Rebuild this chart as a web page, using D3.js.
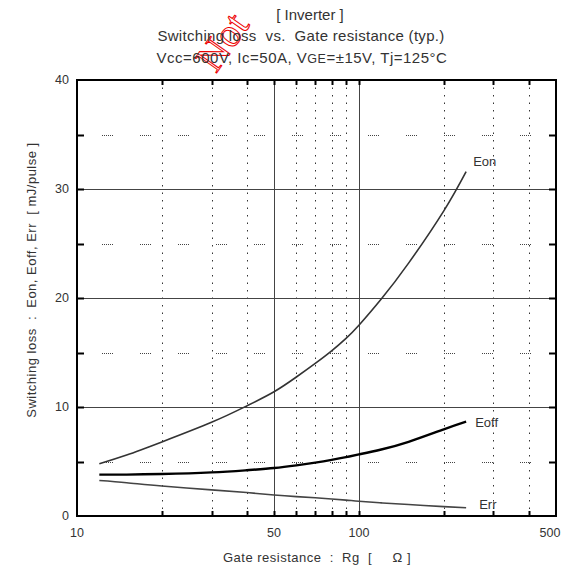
<!DOCTYPE html>
<html><head><meta charset="utf-8">
<script src="https://cdn.jsdelivr.net/npm/d3@7"></script>
<style>
body{margin:0;background:#fff;}
svg{display:block;font-family:"Liberation Sans",Arial,sans-serif;}
text{white-space:pre;}
</style></head>
<body><svg id="c" width="561" height="567"></svg>
<script>
// ---- data ----
const rg   = [12, 15, 20, 30, 40, 50, 60, 70, 80, 90, 100, 120, 150, 200, 240];
const eon  = [4.8, 5.6, 6.8, 8.6, 10.1, 11.4, 12.75, 14.0, 15.15, 16.3, 17.5, 19.9, 23.2, 28.0, 31.6];
const eoff = [3.8, 3.8, 3.85, 4.0, 4.2, 4.4, 4.65, 4.9, 5.15, 5.4, 5.65, 6.1, 6.8, 7.95, 8.65];
const err  = [3.25, 3.05, 2.75, 2.4, 2.15, 1.93, 1.78, 1.67, 1.56, 1.46, 1.35, 1.2, 1.05, 0.86, 0.76];
const xTickLabels = [10, 50, 100, 500];
const xMajorGrid = [50, 100];
const xMinorGrid = [20, 30, 40, 60, 70, 80, 90, 200, 300, 400];
const yTickLabels = [0, 10, 20, 30, 40];
const yMajorGrid = [10, 20, 30];
const yMinorGrid = [5, 15, 25, 35];
const titles = ["[ Inverter ]", "Switching loss  vs.  Gate resistance (typ.)"];

const svg = d3.select("#c");
const L = 77, R = 556, T = 80, B = 516;
const x = d3.scaleLog().domain([10, 500]).range([L, R]);
const y = d3.scaleLinear().domain([0, 40]).range([B, T]);

// ---- stamp ----
svg.append("text").attr("transform", "translate(216,74) rotate(-55)")
  .attr("font-family", "Liberation Serif, serif").attr("font-size", 40)
  .attr("fill", "none").attr("stroke", "#e00").attr("stroke-width", 1).text("Not");

// ---- grid ----
const g = svg.append("g");
g.selectAll(".vmin").data(xMinorGrid).join("line")
  .attr("x1", d => Math.round(x(d)) + 0.5).attr("x2", d => Math.round(x(d)) + 0.5)
  .attr("y1", T).attr("y2", B).attr("stroke", "#333").attr("stroke-width", 1)
  .attr("stroke-dasharray", "1.5 6");
g.selectAll(".hmin").data(yMinorGrid).join("line")
  .attr("x1", L).attr("x2", R)
  .attr("y1", d => Math.round(y(d)) + 0.5).attr("y2", d => Math.round(y(d)) + 0.5)
  .attr("stroke", "#444").attr("stroke-width", 1)
  .attr("stroke-dasharray", "1 1 1 1 1 1 1 1 1 1 1 27").attr("stroke-dashoffset", 13);
g.selectAll(".vmaj").data(xMajorGrid).join("line")
  .attr("x1", d => Math.round(x(d)) + 0.5).attr("x2", d => Math.round(x(d)) + 0.5)
  .attr("y1", T).attr("y2", B).attr("stroke", "#444").attr("stroke-width", 1);
g.selectAll(".hmaj").data(yMajorGrid).join("line")
  .attr("x1", L).attr("x2", R)
  .attr("y1", d => Math.round(y(d)) + 0.5).attr("y2", d => Math.round(y(d)) + 0.5)
  .attr("stroke", "#444").attr("stroke-width", 1);

// ---- ticks (inward) ----
const tk = svg.append("g").attr("stroke", "#000").attr("stroke-width", 2);
[...xMinorGrid, ...xMajorGrid].forEach(d => {
  const xx = Math.round(x(d)) + 0.5;
  tk.append("line").attr("x1", xx).attr("x2", xx).attr("y1", B).attr("y2", B - 5);
  tk.append("line").attr("x1", xx).attr("x2", xx).attr("y1", T).attr("y2", T + 5);
});
[...yMinorGrid, ...yMajorGrid].forEach(d => {
  const yy = Math.round(y(d)) + 0.5;
  tk.append("line").attr("x1", L).attr("x2", L + 7).attr("y1", yy).attr("y2", yy);
  tk.append("line").attr("x1", R).attr("x2", R - 7).attr("y1", yy).attr("y2", yy);
});

// ---- frame ----
svg.append("rect").attr("x", L).attr("y", T).attr("width", R - L).attr("height", B - T)
  .attr("fill", "none").attr("stroke", "#000").attr("stroke-width", 2);

// ---- curves ----
const pts = vals => rg.map((r, i) => [r, vals[i]]);
const line = d3.line().x(d => x(d[0])).y(d => y(d[1])).curve(d3.curveNatural);
svg.append("path").attr("d", line(pts(eon))).attr("fill", "none").attr("stroke", "#333").attr("stroke-width", 1.6);
svg.append("path").attr("d", line(pts(eoff))).attr("fill", "none").attr("stroke", "#000").attr("stroke-width", 2.4);
svg.append("path").attr("d", line(pts(err))).attr("fill", "none").attr("stroke", "#444").attr("stroke-width", 1.6);

// series labels
const last = rg.length - 1;
const lab = svg.append("g").attr("font-size", 13).attr("fill", "#333");
lab.append("text").attr("x", x(rg[last]) + 7).attr("y", y(eon[last]) - 6).text("Eon");
lab.append("text").attr("x", x(rg[last]) + 9).attr("y", y(eoff[last]) + 5).text("Eoff");
lab.append("text").attr("x", x(rg[last]) + 13).attr("y", y(err[last]) + 1).text("Err");

// ---- axis labels ----
const tl = svg.append("g").attr("font-size", 12.5).attr("fill", "#333");
tl.selectAll(".yl").data(yTickLabels).join("text")
  .attr("x", 69).attr("y", d => y(d) + 4).attr("text-anchor", "end").text(d => d);
tl.selectAll(".xl").data(xTickLabels).join("text")
  .attr("x", d => Math.min(x(d), 560 - 10))
  .attr("y", 537).attr("text-anchor", "middle").text(d => d);

svg.append("text").attr("transform", "translate(36,280) rotate(-90)").attr("text-anchor", "middle")
  .attr("font-size", 13).attr("letter-spacing", 0.5).attr("fill", "#333")
  .text("Switching loss  :  Eon, Eoff, Err  [ mJ/pulse ]");
svg.append("text").attr("x", 317).attr("y", 562).attr("text-anchor", "middle")
  .attr("font-size", 13).attr("letter-spacing", 0.5).attr("fill", "#333")
  .text("Gate resistance  :  Rg  [     \u03A9 ]");

// ---- titles ----
const tt = svg.append("g").attr("font-size", 15).attr("fill", "#333").attr("text-anchor", "middle");
tt.append("text").attr("x", 310).attr("y", 20).text(titles[0]);
tt.append("text").attr("x", 301).attr("y", 41).attr("letter-spacing", 0.3).text(titles[1]);
const t3 = tt.append("text").attr("x", 302).attr("y", 63).attr("letter-spacing", 0.5);
t3.append("tspan").text("Vcc=600V, Ic=50A, V");
t3.append("tspan").attr("font-size", 12.5).text("GE");
t3.append("tspan").text("=\u00B115V, Tj=125\u00B0C");
</script></body></html>
